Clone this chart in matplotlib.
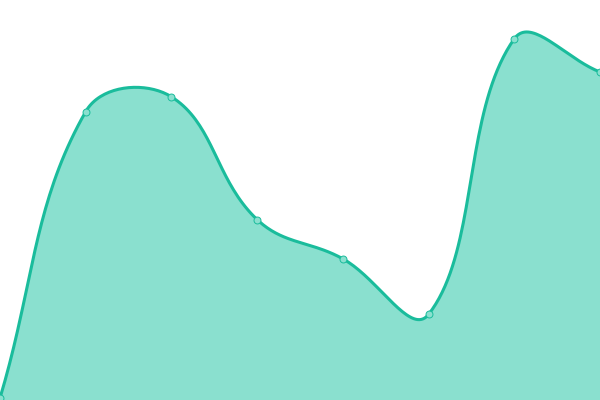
"""Smooth filled area chart (Chart.js-like tension curve)."""

import matplotlib
matplotlib.use("Agg")
import matplotlib.pyplot as plt
import numpy as np

# data
labels = ["A", "B", "C", "D", "E", "F", "G", "H"]
values = [0.5, 72.1, 75.8, 45.1, 35.3, 21.4, 90.3, 82.0]

LINE = "#1abc9c"
FILL = "#8ae0cf"
TENSION = 0.4


def control_points(pts, t):
    """Control points per point, as in Chart.js splineCurve."""
    n = len(pts)
    cps = []
    for i in range(n):
        p0 = pts[max(i - 1, 0)]
        p1 = pts[i]
        p2 = pts[min(i + 1, n - 1)]
        d01 = np.hypot(*(p1 - p0))
        d12 = np.hypot(*(p2 - p1))
        s01 = d01 / (d01 + d12) if d01 + d12 else 0
        s12 = d12 / (d01 + d12) if d01 + d12 else 0
        fa, fb = t * s01, t * s12
        cps.append((p1 - fa * (p2 - p0), p1 + fb * (p2 - p0)))
    return cps


def smooth_path(ax, xs, ys):
    pts = ax.transData.transform(np.column_stack([xs, ys]))
    cps = control_points(pts, TENSION)
    bb = ax.bbox
    lo = np.array([bb.x0, bb.y0])
    hi = np.array([bb.x1, bb.y1])
    cps = [(np.clip(a, lo, hi), np.clip(b, lo, hi)) for a, b in cps]
    s = np.linspace(0, 1, 40)[:, None]
    out = [pts[:1]]
    for i in range(len(pts) - 1):
        a, b = pts[i], pts[i + 1]
        c1, c2 = cps[i][1], cps[i + 1][0]
        seg = ((1 - s) ** 3) * a + 3 * ((1 - s) ** 2) * s * c1 + 3 * (1 - s) * s ** 2 * c2 + s ** 3 * b
        out.append(seg[1:])
    path = np.vstack(out)
    return ax.transData.inverted().transform(path)


def main() -> None:
    fig = plt.figure(figsize=(6, 4), dpi=100)
    ax = fig.add_axes([0, 0, 1, 1])
    x = np.arange(len(values))
    ax.set_xlim(0, len(values) - 1)
    ax.set_ylim(0, 100)
    ax.axis("off")

    curve = smooth_path(ax, x, values)
    ax.fill_between(curve[:, 0], curve[:, 1], 0, color=FILL, lw=0, zorder=1)
    ax.plot(curve[:, 0], curve[:, 1], color=LINE, lw=2.2, zorder=2,
            solid_capstyle="round")
    ax.plot(x, values, "o", ms=5.0, mfc=FILL, mec=LINE, mew=0.7,
            zorder=3, clip_on=False)

    fig.savefig("out.png", dpi=100)
    plt.close(fig)


if __name__ == "__main__":
    main()
